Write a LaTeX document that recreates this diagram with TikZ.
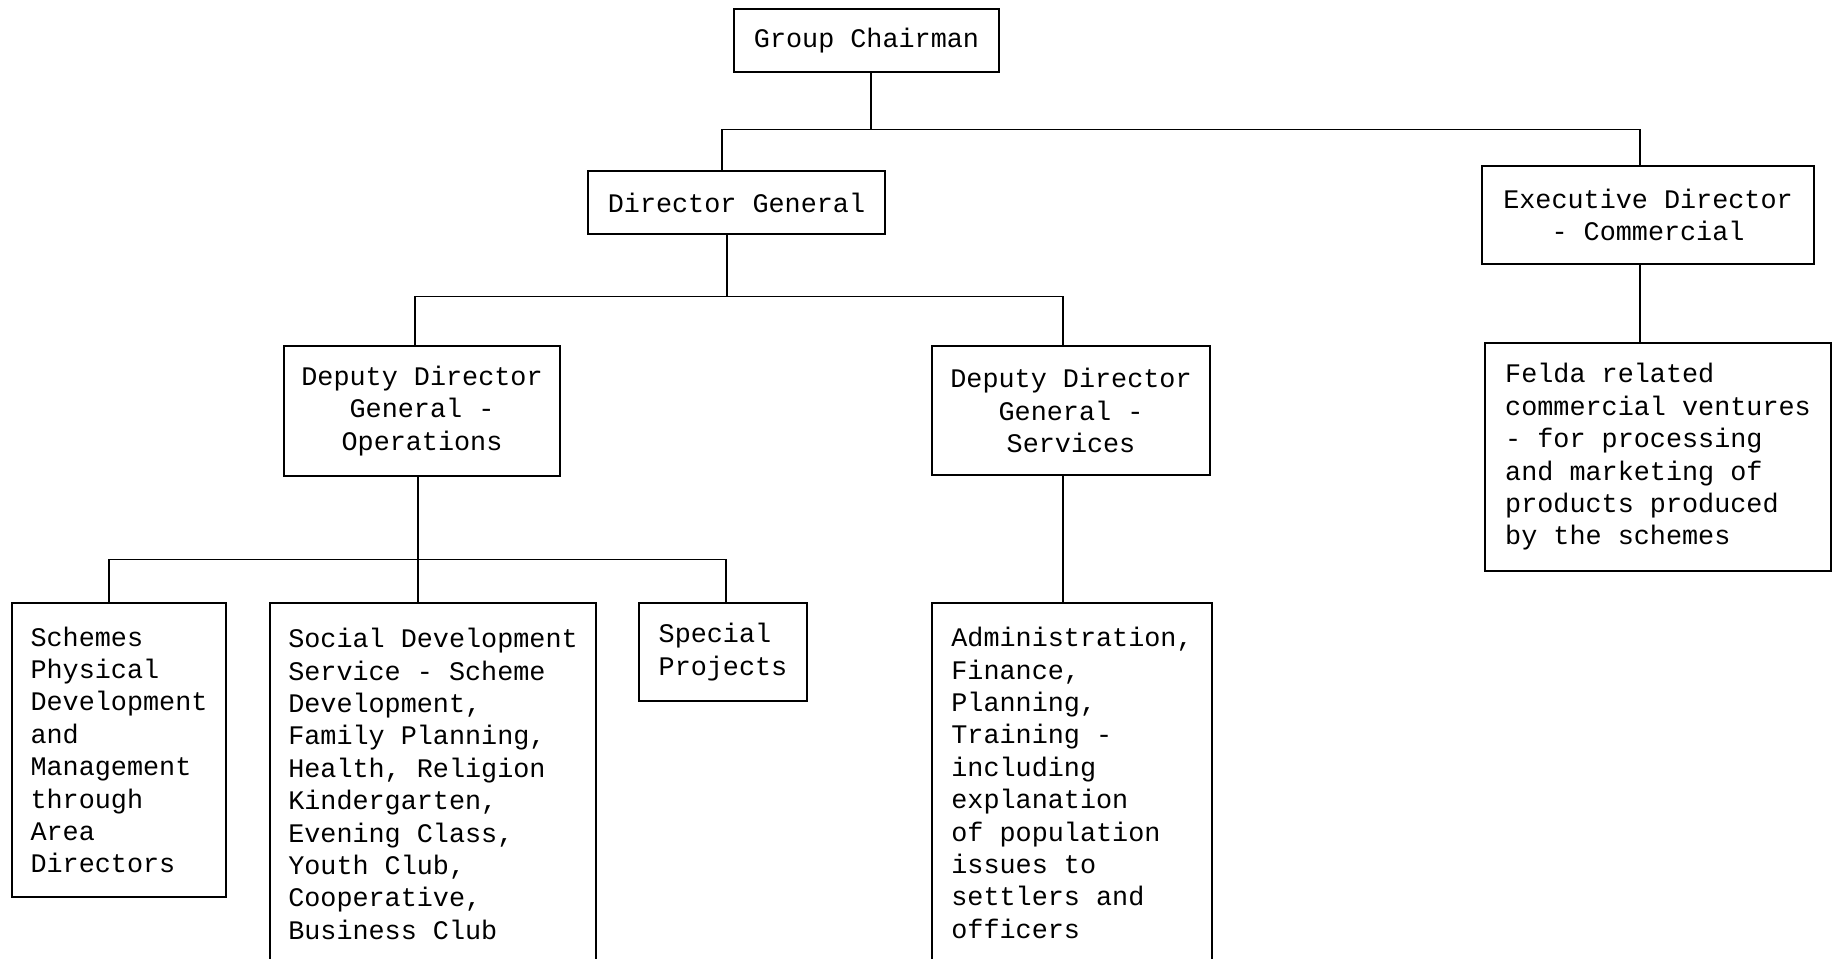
\documentclass[tikz,border=0pt]{standalone}
\usepackage{fontspec}
\setmonofont{Liberation Mono}
\newfontfamily\orgmono{Liberation Mono}
\begin{document}
\begin{tikzpicture}[x=1pt,y=-1pt,
  orgbox/.style={draw=black,line width=1.3pt,inner sep=0pt,
    font={\orgmono\fontsize{26.8pt}{32.4pt}\selectfont},text=black},
  cbox/.style={orgbox,align=center},
  lbox/.style={orgbox,align=left},
  link/.style={draw=black,line width=1.3pt}]
\useasboundingbox (0,0) rectangle (1833,958);
\clip (0,0) rectangle (1833,958);
\fill[white] (0,0) rectangle (1833,958);

\node[cbox,minimum width=265pt,minimum height=63pt] (gc) at (866.5,40.5) {Group Chairman};
\node[cbox,minimum width=297pt,minimum height=63pt] (dg) at (736.5,202.5) {Director General};
\node[cbox,minimum width=332pt,minimum height=98pt] (ed) at (1648,215) {Executive Director\\- Commercial};
\node[lbox,minimum width=346pt,minimum height=228pt] (felda) at (1658,457) {Felda related\\commercial ventures\\- for processing\\and marketing of\\products produced\\by the schemes};
\node[cbox,minimum width=276pt,minimum height=130pt] (ops) at (422,411) {Deputy Director\\General -\\Operations};
\node[cbox,minimum width=278pt,minimum height=129pt] (serv) at (1071,410.5) {Deputy Director\\General -\\Services};
\node[lbox,minimum width=214pt,minimum height=294pt] (schemes) at (119,750) {Schemes\\Physical\\Development\\and\\Management\\through\\Area\\Directors};
\node[lbox,minimum width=326pt,minimum height=362pt] (social) at (433,784) {Social Development\\Service - Scheme\\Development,\\Family Planning,\\Health, Religion\\Kindergarten,\\Evening Class,\\Youth Club,\\Cooperative,\\Business Club};
\node[lbox,minimum width=168pt,minimum height=98pt] (special) at (723,652) {Special\\Projects};
\node[lbox,minimum width=280pt,minimum height=360pt] (admin) at (1072,783) {Administration,\\Finance,\\Planning,\\Training -\\including\\explanation\\of population\\issues to\\settlers and\\officers};

% top level
\coordinate (b1) at ([xshift=4.5pt,yshift=-57pt]gc.south);
\draw[link] ([xshift=4.5pt]gc.south) -- (b1);
\draw[link] (b1) -| ([xshift=-14.5pt]dg.north);
\draw[link] (b1) -| ([xshift=-8pt]ed.north);

% director general
\coordinate (b2) at ([xshift=-9.5pt,yshift=-62pt]dg.south);
\draw[link] ([xshift=-9.5pt]dg.south) -- (b2);
\draw[link] (b2) -| ([xshift=-7pt]ops.north);
\draw[link] (b2) -| ([xshift=-8pt]serv.north);

% executive director
\draw[link] ([xshift=-8pt]ed.south) -- ([xshift=-8pt]ed.south |- felda.north);

% operations
\coordinate (b3) at ([xshift=-4pt,yshift=-83pt]ops.south);
\draw[link] ([xshift=-4pt]ops.south) -- (b3);
\draw[link] (b3) -| ([xshift=-10pt]schemes.north);
\draw[link] (b3) -| ([xshift=3pt]special.north);
\draw[link] (b3) -- (b3 |- social.north);

% services
\draw[link] ([xshift=-8pt]serv.south) -- ([xshift=-8pt]serv.south |- admin.north);
\end{tikzpicture}
\end{document}
